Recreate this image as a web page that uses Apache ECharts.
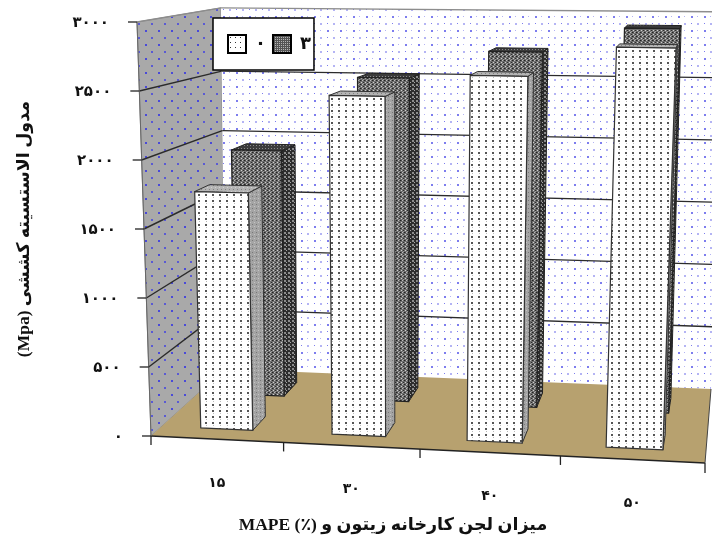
<!DOCTYPE html>
<html dir="rtl"><head><meta charset="utf-8">
<style>html,body{margin:0;padding:0;background:#fff}#c{position:absolute;left:0;top:0;width:712px;height:539px}</style>
<script src="https://cdn.jsdelivr.net/npm/echarts@6/dist/echarts.min.js"></script>
</head><body><div id="c"></div>
<script>
const categories = ['۱۵','۳۰','۴۰','۵۰'];
const seriesNames = ['٠','۳'];
const values0 = [1742, 2470, 2633, 2852];
const values3 = [1935, 2525, 2743, 2935];
const yTickValues = [0,500,1000,1500,2000,2500,3000];
const yTickLabels = ['٠','۵٠٠','۱٠٠٠','۱۵٠٠','۲٠٠٠','۲۵٠٠','۳٠٠٠'];
const yTitle = 'مدول الاستسیته کششی (Mpa)';
const xTitle = 'میزان لجن کارخانه زیتون و (٪) MAPE';

// oblique view of the chart box
const G = {l:151, r:705, t:22, b:436};
const corners = {
  f00:[151,436], f10:[705,463], f01:[137,22], f11:[722,30],
  b00:[225,369], b10:[711,389], b01:[221,11.5],  b11:[722,15.5]
};
const lerp=(a,b,t)=>[a[0]+(b[0]-a[0])*t,a[1]+(b[1]-a[1])*t];
function proj(s,v,n){
  const t=s/(1+0.0593*(1-s));
  const c=corners;
  const front=lerp(lerp(c.f00,c.f10,t),lerp(c.f01,c.f11,t),n);
  const back =lerp(lerp(c.b00,c.b10,t),lerp(c.b01,c.b11,t),n);
  return lerp(front,back,v);
}
function tile(w,h,bg,dots){
  const cv=document.createElement('canvas');cv.width=w;cv.height=h;
  const x=cv.getContext('2d');x.fillStyle=bg;x.fillRect(0,0,w,h);
  dots.forEach(d=>{x.fillStyle=d[3];x.fillRect(d[0],d[1],d[2],d[2]);});
  return {image:cv,repeat:'repeat'};
}
const blueA='#7d7dee',blueB='#b4b4f4';
const patBack=tile(13,14,'#ffffff',[[2,2,2,blueA],[8,9,2,blueB],[8,2,1,blueB],[2,9,1,blueA]]);
const patLeft=tile(13,14,'#a9a9a9',[[2,2,2,'#4a4ad8'],[8,9,2,'#5a5ad4']]);
const patFront=tile(7,6,'#ffffff',[[2,2,2,'#555555'],[3,5,1,'#bbbbbb']]);
const patSide=tile(4,4,'#a4a4a4',[[0,0,1,'#777777'],[2,2,1,'#c4c4c4']]);
const patTop=tile(4,4,'#b4b4b4',[[1,1,1,'#808080'],[3,3,1,'#d0d0d0']]);
const patDark=tile(4,4,'#6e6e6e',[[0,0,1,'#222222'],[2,0,1,'#bdbdbd'],[1,2,1,'#cfcfcf'],[3,2,1,'#2c2c2c'],[1,0,1,'#4a4a4a'],[3,3,1,'#999999']]);
const patDarkSide=tile(4,4,'#2d2d2d',[[0,0,2,'#8c8c8c'],[2,2,1,'#aaaaaa']]);
const patDarkTop=tile(3,3,'#3c3c3c',[[1,1,1,'#8a8a8a']]);
const patLegend0=tile(5,5,'#ffffff',[[2,2,1,'#333333']]);
const patLegend3=tile(2,2,'#555555',[[0,0,1,'#b5b5b5']]);

const poly=(pts,fill,stroke,lw)=>({type:'polygon',shape:{points:pts},style:{fill:fill,stroke:stroke||null,lineWidth:lw||0}});
const line=(a,b,col,lw)=>({type:'line',shape:{x1:a[0],y1:a[1],x2:b[0],y2:b[1]},style:{stroke:col,lineWidth:lw,fill:null}});
const label=(text,x,y,align,size)=>({type:'text',style:{text:text,x:x,y:y,fill:'#111',align:align,verticalAlign:'middle',font:'bold '+size+'px "DejaVu Sans"'}});

function nOf(api,val){const p=api.coord([0,val]);return (G.b-p[1])/(G.b-G.t);}

function renderBox(params,api){
  const top=1.01;
  const kids=[
    poly([proj(0,0,0),proj(0,1,0),proj(0,1,top),proj(0,0,1)],patLeft,'#8a8a8a',1),
    poly([proj(0,1,0),proj(1,1,0),proj(1,1,top),proj(0,1,top)],patBack,null,0),
    poly([proj(0,0,0),proj(1,0,0),proj(1,1,0),proj(0,1,0)],'#b7a16f',null,0)
  ];
  yTickValues.forEach(val=>{
    if(val===0||val===3000) return;
    const n=nOf(api,val);
    kids.push(line(proj(0,0,n),proj(0,1,n),'#2b2b2b',1.4));
    kids.push(line(proj(0,1,n),proj(1,1,n),'#2b2b2b',1.4));
  });
  kids.push(line(proj(0,0,1),proj(0,1,top),'#8d8d8d',1.4));
  kids.push(line(proj(0,1,top),proj(1,1,top),'#8d8d8d',1.4));
  kids.push(line(proj(0,0,0),proj(1,0,0),'#222',1.4));
  kids.push(line(proj(0,0,0),proj(0,0,1),'#666',1));
  kids.push(line(proj(1,0,0),proj(1,1,0),'#444',1));
  return {type:'group',children:kids};
}
function renderYTicks(params,api){
  const n=nOf(api,api.value(1));
  const a=proj(0,0,n),b=[a[0]-9,a[1]];
  return {type:'group',children:[line(a,b,'#222',1.3),label(yTickLabels[params.dataIndex],a[0]-28,a[1]+1,'right',15)]};
}
function renderXTicks(params,api){
  const c=api.coord([api.value(0),0]),bw=api.size([1,0])[0];
  const sl=(c[0]-bw/2-G.l)/(G.r-G.l), sr=(c[0]+bw/2-G.l)/(G.r-G.l), sm=(c[0]-G.l)/(G.r-G.l);
  const a=proj(sl,0,0),m=proj(sm,0,0);
  const kids=[line(a,[a[0],a[1]+9],'#222',1.3),label(categories[params.dataIndex],m[0],m[1]+44,'center',14)];
  if(params.dataIndex===categories.length-1){const e=proj(sr,0,0);kids.push(line(e,[e[0],e[1]+10],'#222',1.3));}
  return {type:'group',children:kids};
}
function bars(v0,v1,front,side,top,edge){
  return function(params,api){
    const c0=api.coord([api.value(0),0]),c1=api.coord([api.value(0),api.value(1)]),bw=api.size([1,0])[0];
    const s0=(c0[0]-0.2*bw-G.l)/(G.r-G.l), s1=(c0[0]+0.2*bw-G.l)/(G.r-G.l);
    const n=(c0[1]-c1[1])/(G.b-G.t);
    return {type:'group',children:[
      poly([proj(s1,v0,0),proj(s1,v1,0),proj(s1,v1,n),proj(s1,v0,n)],side,edge,1),
      poly([proj(s0,v0,n),proj(s1,v0,n),proj(s1,v1,n),proj(s0,v1,n)],top,edge,1),
      poly([proj(s0,v0,0),proj(s1,v0,0),proj(s1,v0,n),proj(s0,v0,n)],front,edge,1.2)
    ]};
  };
}
const chart=echarts.init(document.getElementById('c'),null,{renderer:'canvas'});
chart.setOption({
  animation:false,
  grid:{left:G.l,right:712-G.r,top:G.t,bottom:539-G.b,containLabel:false,outerBoundsMode:'none'},
  xAxis:{type:'category',data:categories,axisLine:{show:false},axisTick:{show:false},axisLabel:{show:false},splitLine:{show:false},
    name:xTitle,nameLocation:'middle',nameGap:80,
    nameTextStyle:{fontFamily:'"Liberation Serif","DejaVu Sans"',fontWeight:'bold',fontSize:17.5,color:'#111',padding:[0,70,0,0]}},
  yAxis:{type:'value',min:0,max:3000,interval:500,axisLine:{show:false},axisTick:{show:false},axisLabel:{show:false},splitLine:{show:false},
    name:yTitle,nameLocation:'middle',nameGap:118,nameRotate:90,
    nameTextStyle:{fontFamily:'"Liberation Serif","DejaVu Sans"',fontWeight:'bold',fontSize:17.5,color:'#111',padding:[12,0,0,0]}},
  legend:{data:seriesNames,left:213,top:18,orient:'horizontal',itemWidth:18,itemHeight:18,itemGap:6,padding:[16,3,16,14],
    backgroundColor:'#fff',borderColor:'#000',borderWidth:1.5,icon:'rect',selectedMode:false,
    textStyle:{fontFamily:'"DejaVu Sans"',fontWeight:'bold',fontSize:18,color:'#111',padding:[0,0,0,4]}},
  series:[
    {type:'custom',name:'box',z:1,silent:true,encode:{x:0,y:1},data:[[0,0]],renderItem:renderBox},
    {type:'custom',name:'yticks',z:1,silent:true,encode:{x:0,y:1},data:yTickValues.map(v=>[0,v]),renderItem:renderYTicks},
    {type:'custom',name:'xticks',z:1,silent:true,encode:{x:0,y:1},data:categories.map((c,i)=>[i,0]),renderItem:renderXTicks},
    {type:'custom',name:seriesNames[1],z:3,encode:{x:0,y:1},data:values3.map((v,i)=>[i,v]),
      itemStyle:{color:patLegend3,borderColor:'#000',borderWidth:2.5},renderItem:bars(0.65,0.85,patDark,patDarkSide,patDarkTop,'#222')},
    {type:'custom',name:seriesNames[0],z:4,encode:{x:0,y:1},data:values0.map((v,i)=>[i,v]),
      itemStyle:{color:patLegend0,borderColor:'#000',borderWidth:2.5},renderItem:bars(0.15,0.35,patFront,patSide,patTop,'#333')}
  ]
});
</script></body></html>
